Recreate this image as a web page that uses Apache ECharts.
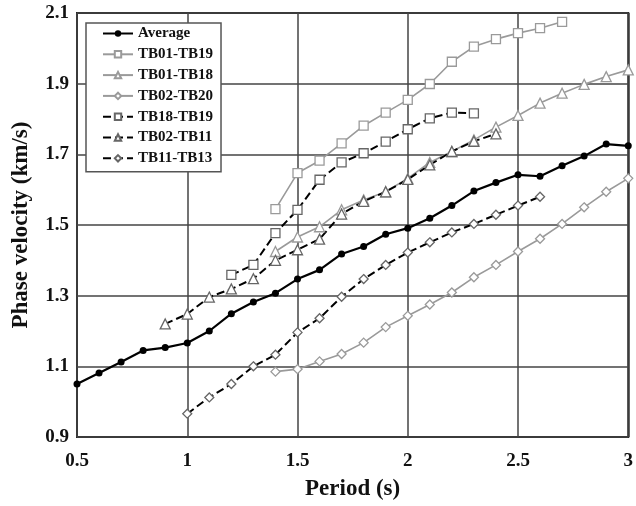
<!DOCTYPE html>
<html>
<head>
<meta charset="utf-8">
<script src="https://cdn.jsdelivr.net/npm/echarts@6/dist/echarts.min.js"></script>
<style>
  html, body { margin: 0; padding: 0; background: #fff; }
  #main { width: 636px; height: 506px; }
</style>
</head>
<body>
<div id="main"></div>
<script>
// periods (s) for each curve
const avgPeriod = [0.5, 0.6, 0.7, 0.8, 0.9, 1.0, 1.1, 1.2, 1.3, 1.4, 1.5, 1.6, 1.7, 1.8, 1.9, 2.0, 2.1, 2.2, 2.3, 2.4, 2.5, 2.6, 2.7, 2.8, 2.9, 3.0]
const avgVel = [1.05, 1.081, 1.112, 1.145, 1.153, 1.166, 1.20, 1.249, 1.282, 1.307, 1.347, 1.373, 1.418, 1.439, 1.474, 1.491, 1.519, 1.555, 1.596, 1.62, 1.642, 1.638, 1.668, 1.695, 1.729, 1.724]

const p0119 = [1.4, 1.5, 1.6, 1.7, 1.8, 1.9, 2.0, 2.1, 2.2, 2.3, 2.4, 2.5, 2.6, 2.7]
const v0119 = [1.545, 1.647, 1.682, 1.731, 1.781, 1.818, 1.854, 1.899, 1.962, 2.005, 2.026, 2.043, 2.057, 2.075]

const p0118 = [1.4, 1.5, 1.6, 1.7, 1.8, 1.9, 2.0, 2.1, 2.2, 2.3, 2.4, 2.5, 2.6, 2.7, 2.8, 2.9, 3.0]
const v0118 = [1.425, 1.466, 1.495, 1.543, 1.571, 1.594, 1.632, 1.677, 1.708, 1.741, 1.777, 1.81, 1.845, 1.873, 1.898, 1.92, 1.939]

const p0220 = [1.4, 1.5, 1.6, 1.7, 1.8, 1.9, 2.0, 2.1, 2.2, 2.3, 2.4, 2.5, 2.6, 2.7, 2.8, 2.9, 3.0]
const v0220 = [1.085, 1.092, 1.114, 1.135, 1.167, 1.211, 1.243, 1.275, 1.309, 1.352, 1.387, 1.425, 1.461, 1.503, 1.55, 1.594, 1.632]

const p1819 = [1.2, 1.3, 1.4, 1.5, 1.6, 1.7, 1.8, 1.9, 2.0, 2.1, 2.2, 2.3]
const v1819 = [1.359, 1.387, 1.477, 1.543, 1.628, 1.677, 1.703, 1.736, 1.771, 1.802, 1.818, 1.816]

const p0211 = [0.9, 1.0, 1.1, 1.2, 1.3, 1.4, 1.5, 1.6, 1.7, 1.8, 1.9, 2.0, 2.1, 2.2, 2.3, 2.4]
const v0211 = [1.22, 1.248, 1.296, 1.319, 1.348, 1.40, 1.43, 1.46, 1.531, 1.567, 1.594, 1.629, 1.67, 1.708, 1.737, 1.758]

const p1113 = [1.0, 1.1, 1.2, 1.3, 1.4, 1.5, 1.6, 1.7, 1.8, 1.9, 2.0, 2.1, 2.2, 2.3, 2.4, 2.5, 2.6]
const v1113 = [0.966, 1.012, 1.05, 1.10, 1.133, 1.196, 1.236, 1.297, 1.347, 1.387, 1.422, 1.451, 1.479, 1.503, 1.529, 1.555, 1.58]

const xTicks = { min: 0.5, max: 3, interval: 0.5 }
const yTicks = { min: 0.9, max: 2.1, interval: 0.2 }

const font = '"Liberation Serif", "Times New Roman", serif'
const gray = '#9a9a9a'

const pairs = (xs, ys) => xs.map((x, i) => [x, ys[i]])

function curve(name, xs, ys, color, dashed, symbol, size) {
  return {
    name: name,
    type: 'line',
    data: pairs(xs, ys),
    symbol: symbol,
    symbolSize: size,
    showAllSymbol: true,
    lineStyle: { color: color, width: dashed ? 2 : 1.6, type: dashed ? [8, 4] : 'solid' },
    itemStyle: { color: '#fff', borderColor: dashed ? '#666' : gray, borderWidth: 1.3 },
    emphasis: { disabled: true },
    z: 3
  }
}

const chart = echarts.init(document.getElementById('main'))
chart.setOption({
  animation: false,
  textStyle: { fontFamily: font },
  grid: {
    left: 77, right: 3, top: 13, bottom: 69,
    show: true, borderColor: '#222', borderWidth: 2, backgroundColor: 'transparent'
  },
  legend: {
    orient: 'vertical',
    left: 86, top: 23,
    padding: [3, 8, 6, 16],
    itemWidth: 30, itemHeight: 8, itemGap: 5.8,
    backgroundColor: '#fff',
    borderColor: '#555', borderWidth: 1.5, borderRadius: 0,
    textStyle: { fontFamily: font, fontWeight: 'bold', fontSize: 15, color: '#111', lineHeight: 14 },
    data: ['Average', 'TB01-TB19', 'TB01-TB18', 'TB02-TB20', 'TB18-TB19', 'TB02-TB11', 'TB11-TB13']
  },
  xAxis: {
    type: 'value',
    min: xTicks.min, max: xTicks.max, interval: xTicks.interval,
    name: 'Period (s)', nameLocation: 'middle', nameGap: 41,
    nameTextStyle: { fontFamily: font, fontWeight: 'bold', fontSize: 23, color: '#111' },
    axisLine: { show: false },
    axisTick: { show: false },
    axisLabel: { fontFamily: font, fontWeight: 'bold', fontSize: 19, color: '#111', margin: 15 },
    splitLine: { show: true, lineStyle: { color: '#444', width: 1.5 } }
  },
  yAxis: {
    type: 'value',
    min: yTicks.min, max: yTicks.max, interval: yTicks.interval,
    name: 'Phase velocity (km/s)', nameLocation: 'middle', nameGap: 44,
    nameTextStyle: { fontFamily: font, fontWeight: 'bold', fontSize: 23, color: '#111' },
    axisLine: { show: false },
    axisTick: { show: false },
    axisLabel: {
      fontFamily: font, fontWeight: 'bold', fontSize: 19, color: '#111', margin: 8,
      formatter: v => v.toFixed(1)
    },
    splitLine: { show: true, lineStyle: { color: '#444', width: 1.5 } }
  },
  series: [
    {
      name: 'Average',
      type: 'line',
      data: pairs(avgPeriod, avgVel),
      symbol: 'circle',
      symbolSize: 7,
      lineStyle: { color: '#000', width: 2.2 },
      itemStyle: { color: '#000' },
      emphasis: { disabled: true },
      z: 4
    },
    curve('TB01-TB19', p0119, v0119, gray, false, 'rect', 9),
    curve('TB01-TB18', p0118, v0118, gray, false, 'triangle', 10),
    curve('TB02-TB20', p0220, v0220, gray, false, 'diamond', 9),
    curve('TB18-TB19', p1819, v1819, '#000', true, 'rect', 9),
    curve('TB02-TB11', p0211, v0211, '#000', true, 'triangle', 10),
    curve('TB11-TB13', p1113, v1113, '#000', true, 'diamond', 9)
  ]
})
</script>
</body>
</html>
